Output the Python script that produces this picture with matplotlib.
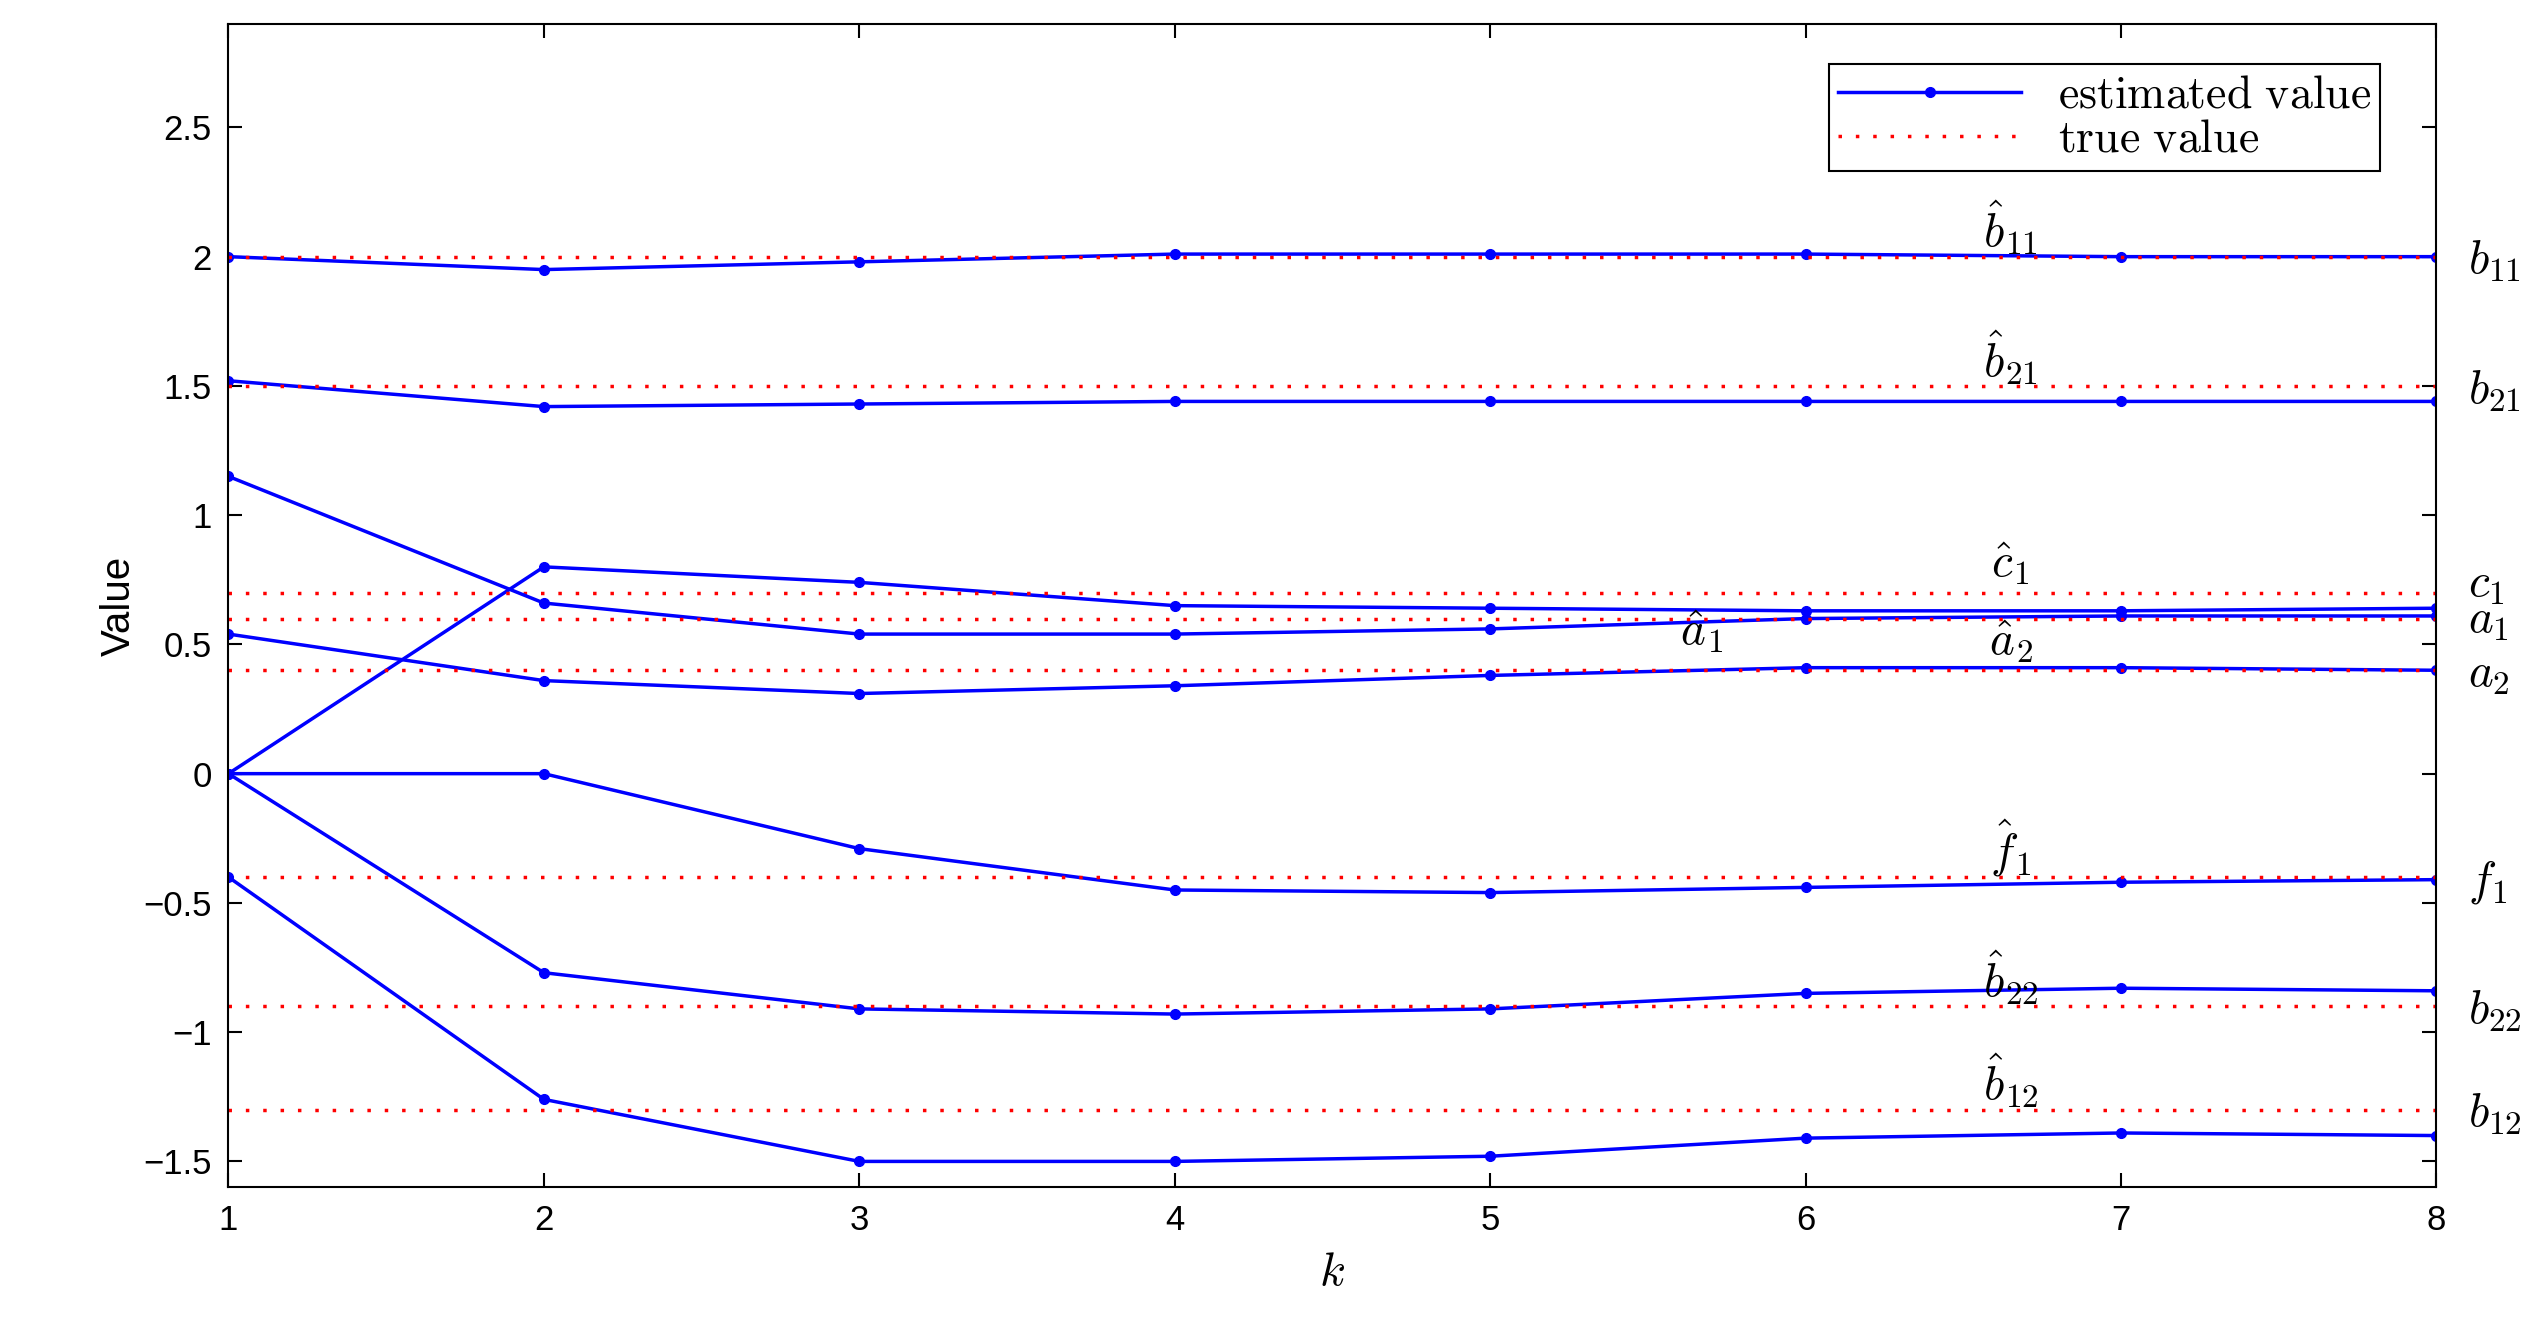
import matplotlib
matplotlib.use("Agg")
import matplotlib.pyplot as plt

plt.rcParams["mathtext.fontset"] = "cm"
plt.rcParams["font.family"] = ["Liberation Sans", "DejaVu Sans"]

k = [1, 2, 3, 4, 5, 6, 7, 8]

# estimated parameters per iteration
est = {
    "b11": [2.00, 1.95, 1.98, 2.01, 2.01, 2.01, 2.00, 2.00],
    "b21": [1.52, 1.42, 1.43, 1.44, 1.44, 1.44, 1.44, 1.44],
    "c1": [0.00, 0.80, 0.74, 0.65, 0.64, 0.63, 0.63, 0.64],
    "a1": [1.15, 0.66, 0.54, 0.54, 0.56, 0.60, 0.61, 0.61],
    "a2": [0.54, 0.36, 0.31, 0.34, 0.38, 0.41, 0.41, 0.40],
    "f1": [0.00, 0.00, -0.29, -0.45, -0.46, -0.44, -0.42, -0.41],
    "b22": [0.00, -0.77, -0.91, -0.93, -0.91, -0.85, -0.83, -0.84],
    "b12": [-0.40, -1.26, -1.50, -1.50, -1.48, -1.41, -1.39, -1.40],
}
true = {"b11": 2.0, "b21": 1.5, "c1": 0.7, "a1": 0.6, "a2": 0.4,
        "f1": -0.4, "b22": -0.9, "b12": -1.3}

tex = {"b11": "b_{11}", "b21": "b_{21}", "c1": "c_1", "a1": "a_1", "a2": "a_2",
       "f1": "f_1", "b22": "b_{22}", "b12": "b_{12}"}
hat = {"b11": r"\hat{b}_{11}", "b21": r"\hat{b}_{21}", "c1": r"\hat{c}_1",
       "a1": r"\hat{a}_1", "a2": r"\hat{a}_2", "f1": r"\hat{f}_1",
       "b22": r"\hat{b}_{22}", "b12": r"\hat{b}_{12}"}

fig = plt.figure(figsize=(25.38, 13.34), dpi=100)
ax = fig.add_axes([0.09, 0.11, 0.87, 0.872])

first = True
for name, vals in est.items():
    ax.plot(k, vals, color="blue", lw=2.5, marker="o", ms=7,
            label=r"$\mathrm{estimated\ value}$" if first else None)
    ax.plot([1, 8], [true[name]] * 2, color="red", ls=(0, (1, 4)), lw=2.5,
            label=r"$\mathrm{true\ value}$" if first else None)
    first = False
    # right side true-value label
    off = {"c1": 0.03, "a1": -0.01}.get(name, -0.02)
    ax.text(8.1, true[name] + off, "$" + tex[name] + "$", fontsize=34,
            va="center", ha="left", clip_on=False)
    if name == "a1":
        ax.text(5.67, 0.55, "$" + hat[name] + "$", fontsize=34, ha="center", va="center")
    else:
        ax.text(6.65, true[name] + 0.11, "$" + hat[name] + "$", fontsize=34,
                ha="center", va="center")

ax.set_xlim(1, 8)
ax.set_ylim(-1.6, 2.9)
ax.set_yticks([-1.5, -1, -0.5, 0, 0.5, 1, 1.5, 2, 2.5])
ax.set_yticklabels(["\u22121.5", "\u22121", "\u22120.5", "0", "0.5", "1", "1.5", "2", "2.5"])
ax.tick_params(labelsize=25, direction="in", length=10, width=1.5, top=True, right=True, pad=12)
for s in ax.spines.values():
    s.set_linewidth(1.5)
ax.set_xlabel("$k$", fontsize=34, labelpad=10)
ax.set_ylabel("Value", fontsize=29)

leg = ax.legend(loc="upper right", bbox_to_anchor=(0.985, 0.985), fontsize=33,
                fancybox=False, edgecolor="black", framealpha=1, handlelength=4,
                borderpad=0.2, labelspacing=0.0)
leg.get_frame().set_linewidth(1.5)

fig.savefig("out.png", dpi=100)
